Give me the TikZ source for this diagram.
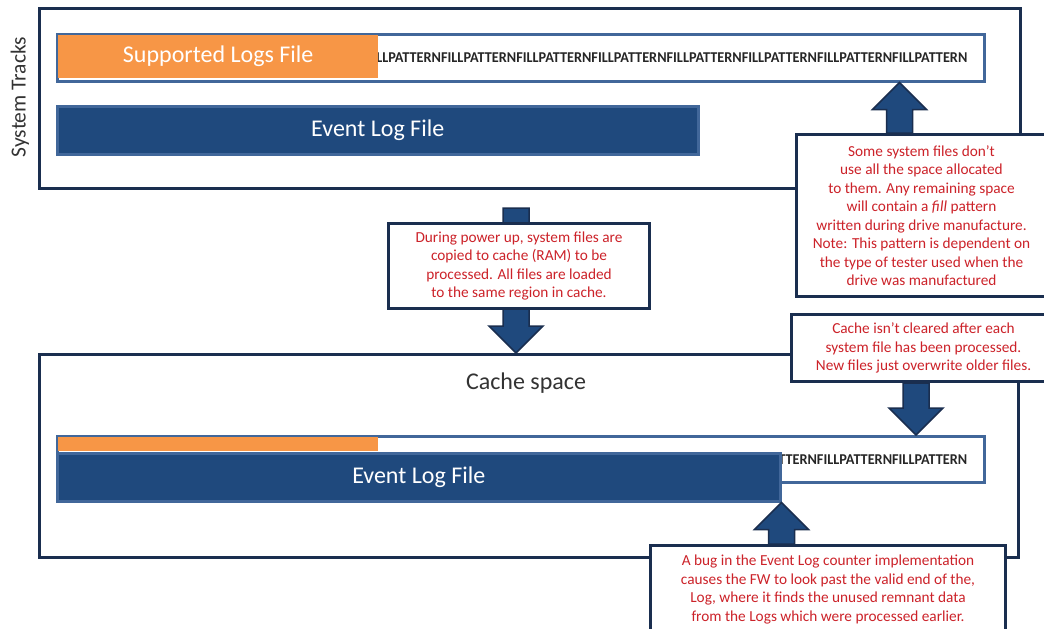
\documentclass[tikz,border=0pt]{standalone}
\usepackage{fontspec}
\usepackage{graphicx}
\setmainfont{Carlito}
\usetikzlibrary{positioning, calc}
\definecolor{logblue}{HTML}{1F497D}
\definecolor{barline}{HTML}{41679A}
\definecolor{framenavy}{HTML}{1A2E4F}
\definecolor{logorange}{HTML}{F79646}
\definecolor{notered}{HTML}{CC2229}
\tikzset{
  frame/.style={
    draw=framenavy,
    line width=3pt,
    fill=white,
    anchor=north west,
    inner sep=0pt
  },
  bar/.style={
    draw=barline,
    line width=2.5pt,
    anchor=north west,
    inner sep=0pt
  },
  eventbar/.style={
    bar,
    fill=logblue,
    text=white,
    font=\fontsize{24}{28}\selectfont
  },
  oldlog/.style={
    fill=logorange,
    text=white,
    anchor=north west,
    inner sep=0pt,
    font=\fontsize{24}{28}\selectfont
  },
  note/.style={
    draw=framenavy,
    line width=3pt,
    fill=white,
    anchor=north west,
    text=notered,
    align=center,
    inner sep=0pt,
    font=\fontsize{15.3}{18.5}\selectfont
  },
  fillpattern/.style={
    anchor=east,
    inner sep=0pt,
    text=black!85,
    font=\bfseries\fontsize{15}{15}\selectfont
  },
  blockarrow/.style={
    fill=logblue,
    draw=framenavy,
    line width=1.5pt
  }
}
\newcommand{\fillrep}{FILLPATTERN}
\newcommand{\blockarrow}[2]{%
  \draw[blockarrow]
    ($(#1)!13pt!90:(#2)$) --
    ($(#2)!27pt!(#1)!13pt!90:(#2)$) --
    ($(#2)!27pt!(#1)!27pt!90:(#2)$) --
    (#2) --
    ($(#2)!27pt!(#1)!27pt!-90:(#2)$) --
    ($(#2)!27pt!(#1)!13pt!-90:(#2)$) --
    ($(#1)!13pt!-90:(#2)$) -- cycle;
}

\begin{document}
\begin{tikzpicture}[x=1pt, y=-1pt]
        \useasboundingbox (0,0) rectangle (1044,629);
        \clip (0,0) rectangle (1044,629);

        \node[frame, minimum width=981pt, minimum height=180pt] (sys) at (38,7) {};
        \node[rotate=90, text=black!80, font=\fontsize{21.5}{24}\selectfont] (systxt) at (20,97) {System Tracks};

        \node[bar, fill=white, minimum width=927pt, minimum height=47pt] (supfile) at (56,33) {};
        \node[oldlog, minimum width=320pt, minimum height=43pt] (suplog) at (58,35) {Supported Logs File};
        \begin{scope}
          \clip (suplog.north east) rectangle ($(supfile.south east)+(-2,-2)$);
          \node[fillpattern] (suppat) at ($(supfile.east)+(-18,0)$) {\scalebox{0.95}[1]{RN\fillrep\fillrep\fillrep\fillrep\fillrep\fillrep\fillrep\fillrep}};
        \end{scope}
        \node[eventbar, minimum width=641pt, minimum height=48pt] (evtop) at (56,105) {Event Log File};

        \node[frame, minimum width=979pt, minimum height=203pt] (cache) at (38,353) {};
        \node[text=black!80, font=\fontsize{24}{28}\selectfont] (cachetxt) at (526,383) {Cache space};

        \node[bar, fill=white, minimum width=927pt, minimum height=46pt] (cachefile) at (56,435) {};
        \node[oldlog, minimum width=320pt, minimum height=14pt] (cacheold) at (58,437) {};
        \node[eventbar, minimum width=723pt, minimum height=48pt] (evcache) at (56,452) {Event Log File};
        \begin{scope}
          \clip ($(evcache.north east)+(1.25,0)$) rectangle ($(cachefile.south east)+(-2,-2)$);
          \node[fillpattern] (cachepat) at ($(cachefile.east)+(-18,0)$) {\scalebox{0.95}[1]{PATTERN\fillrep\fillrep}};
        \end{scope}

        \node[note, minimum width=250pt, minimum height=162pt] (spacenote) at (795,133) {};
        \node[note, minimum width=261pt, minimum height=85pt] (loadnote) at (387,222) {};
        \node[note, minimum width=264pt, minimum height=67pt] (cachenote) at (790,313) {};
        \node[note, minimum width=355pt, minimum height=88pt] (bugnote) at (649,544) {};

        \coordinate (a1s) at ($(spacenote.north west)+(104.5,0)$);
        \coordinate (a1t) at (a1s |- supfile.south);
        \coordinate (a2s) at ($(sys.south)+(-14,18)$);
        \coordinate (a2t) at (a2s |- cache.north);
        \coordinate (a3s) at ($(cachenote.south)+(-7.5,0)$);
        \coordinate (a3t) at (a3s |- cachefile.north);
        \coordinate (a4t) at (evcache.south east);
        \coordinate (a4s) at (a4t |- bugnote.north);

        \blockarrow{a1s}{a1t}
        \blockarrow{a2s}{a2t}
        \blockarrow{a3s}{a3t}
        \blockarrow{a4s}{a4t}

        \node[note, minimum width=250pt, minimum height=162pt] at (spacenote.north west) {Some system files don't\\use all the space allocated\\to them. Any remaining space\\will contain a \emph{fill} pattern\\written during drive manufacture.\\Note: This pattern is dependent on\\the type of tester used when the\\drive was manufactured};
        \node[note, minimum width=261pt, minimum height=85pt] at (loadnote.north west) {During power up, system files are\\copied to cache (RAM) to be\\processed. All files are loaded\\to the same region in cache.};
        \node[note, minimum width=264pt, minimum height=67pt] at (cachenote.north west) {Cache isn't cleared after each\\system file has been processed.\\New files just overwrite older files.};
        \node[note, minimum width=355pt, minimum height=88pt] at (bugnote.north west) {A bug in the Event Log counter implementation\\causes the FW to look past the valid end of the,\\Log, where it finds the unused remnant data\\from the Logs which were processed earlier.};
      \end{tikzpicture}
\end{document}
